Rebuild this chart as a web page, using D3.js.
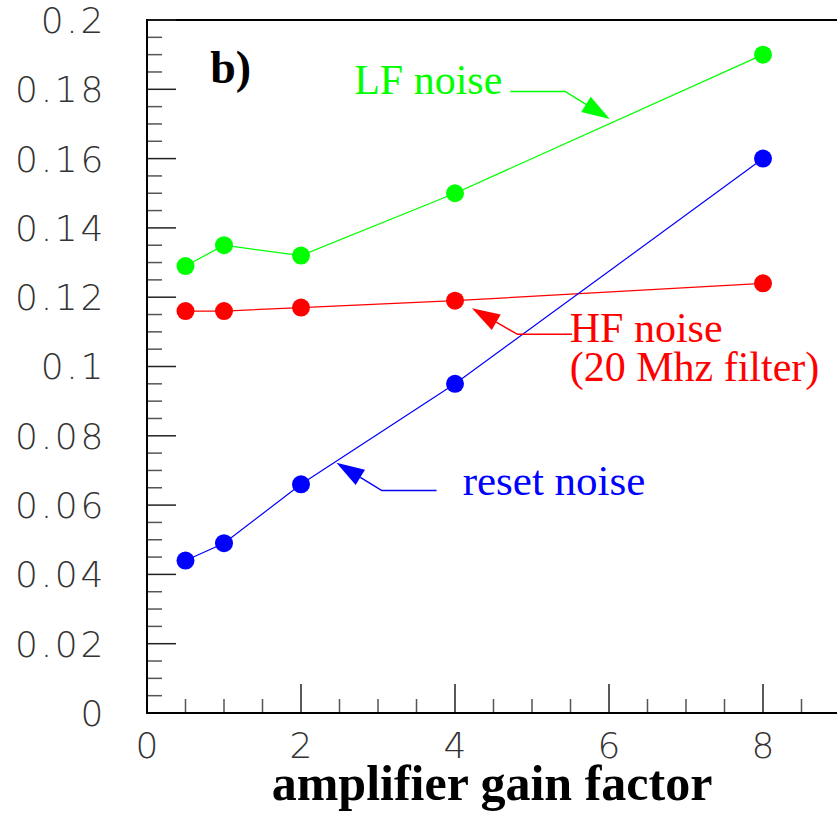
<!DOCTYPE html>
<html><head><meta charset="utf-8">
<script src="https://cdn.jsdelivr.net/npm/d3@7"></script>
<style>
html,body{margin:0;padding:0;background:#fff;}
svg{display:block;}
</style></head>
<body>
<script>
// ---- data ----
const gains = [0.5, 1, 2, 4, 8];
const lfNoise = [0.129, 0.135, 0.132, 0.150, 0.190];
const hfNoise = [0.116, 0.116, 0.117, 0.119, 0.124];
const resetNoise = [0.044, 0.049, 0.066, 0.095, 0.160];
const seriesNames = ["LF noise", "HF noise", "reset noise"];
const seriesColors = ["#00ff00", "#ff0000", "#0000ff"];
const xTickLabels = [0, 2, 4, 6, 8];
const yTickLabels = [0, 0.02, 0.04, 0.06, 0.08, 0.1, 0.12, 0.14, 0.16, 0.18, 0.2];
const xLabel = "amplifier gain factor";
const panelLabel = "b)";
// annotations in data coordinates: label lines, arrow path (from label to tip)
const annLF = {lines: ["LF noise"], tx: 2.69, ty: 0.1786, path: [[4.72, 0.1794], [5.43, 0.1794], [6.01, 0.1714]]};
const annHF = {lines: ["HF noise", "(20 Mhz filter)"], tx: 5.49, ty: 0.1072, path: [[5.52, 0.1093], [4.81, 0.1093], [4.22, 0.1168]]};
const annReset = {lines: ["reset noise"], tx: 4.10, ty: 0.0629, path: [[3.76, 0.0642], [3.05, 0.0642], [2.46, 0.0722]]};

// ---- layout ----
const W = 837, H = 815;
const x = d3.scaleLinear().domain([0, 10]).range([147, 917]);
const y = d3.scaleLinear().domain([0, 0.2]).range([713, 20]);

const svg = d3.select("body").append("svg").attr("width", W).attr("height", H)
  .style("background", "#fff");

// frame: top border
svg.append("line").attr("x1", x(0)).attr("x2", W).attr("y1", y(0.2)).attr("y2", y(0.2))
  .attr("stroke", "#000").attr("stroke-width", 2);

// Y axis ticks
const yMinor = d3.range(0, 0.2001, 0.005);
svg.append("g").selectAll("line").data(yMinor).join("line")
  .attr("x1", x(0)).attr("x2", (d, i) => i % 4 === 0 ? x(0) + 29 : x(0) + 15)
  .attr("y1", d => y(d)).attr("y2", d => y(d))
  .attr("stroke", (d, i) => i % 4 === 0 ? "#222" : "#555").attr("stroke-width", 1.5);
// X axis ticks
const xMinor = d3.range(0, 10.01, 0.5);
svg.append("g").selectAll("line").data(xMinor).join("line")
  .attr("x1", d => x(d)).attr("x2", d => x(d))
  .attr("y1", y(0)).attr("y2", (d, i) => i % 4 === 0 ? y(0) - 29 : y(0) - 14)
  .attr("stroke", (d, i) => i % 4 === 0 ? "#222" : "#555").attr("stroke-width", 1.5);

// axis lines
svg.append("line").attr("x1", x(0)).attr("x2", x(0)).attr("y1", y(0.2) - 1).attr("y2", y(0) + 1)
  .attr("stroke", "#000").attr("stroke-width", 2);
svg.append("line").attr("x1", x(0) - 1).attr("x2", W).attr("y1", y(0)).attr("y2", y(0))
  .attr("stroke", "#000").attr("stroke-width", 2);

const thinFont = "'DejaVu Sans', Inter, sans-serif";
// y tick labels
svg.append("g").selectAll("text").data(yTickLabels).join("text")
  .attr("x", 106).attr("y", d => y(d)).attr("dy", "0.36em")
  .attr("text-anchor", "end").attr("font-family", thinFont).attr("font-weight", 200)
  .attr("font-size", 36).attr("letter-spacing", 2.7).attr("fill", "#333")
  .text(d => d === 0 ? "0" : String(d));
// x tick labels
svg.append("g").selectAll("text").data(xTickLabels).join("text")
  .attr("x", d => x(d)).attr("y", 758)
  .attr("text-anchor", "middle").attr("font-family", thinFont).attr("font-weight", 200)
  .attr("font-size", 36).attr("fill", "#333")
  .text(d => String(d));

// x axis title
svg.append("text").attr("x", 492).attr("y", 800).attr("text-anchor", "middle")
  .attr("font-family", "'Liberation Serif', 'Times New Roman', serif").attr("font-weight", "bold")
  .attr("font-size", 50).attr("fill", "#000").text(xLabel);

// panel label
svg.append("text").attr("x", x(0.82)).attr("y", y(0.1818))
  .attr("font-family", "'Liberation Serif', 'Times New Roman', serif").attr("font-weight", "bold")
  .attr("font-size", 46).attr("fill", "#000").text(panelLabel);

// series
const allSeries = [lfNoise, hfNoise, resetNoise];
const line = d3.line().x((d, i) => x(gains[i])).y(d => y(d));
allSeries.forEach((vals, si) => {
  const g = svg.append("g");
  g.append("path").datum(vals).attr("d", line).attr("fill", "none")
    .attr("stroke", seriesColors[si]).attr("stroke-width", 1.2);
  g.selectAll("circle").data(vals).join("circle")
    .attr("cx", (d, i) => x(gains[i])).attr("cy", d => y(d)).attr("r", 9)
    .attr("fill", seriesColors[si]);
});

// annotations
const annSizes = [42, 42, 43];
[annLF, annHF, annReset].forEach((a, si) => {
  const col = seriesColors[si];
  const g = svg.append("g");
  a.lines.forEach((t, li) => {
    g.append("text").attr("x", x(a.tx)).attr("y", y(a.ty) + li * 39)
      .attr("font-family", "'Liberation Serif', 'Times New Roman', serif")
      .attr("font-size", annSizes[si]).attr("fill", col).text(t);
  });
  const pts = a.path.map(p => [x(p[0]), y(p[1])]);
  const n = pts.length;
  const tip = pts[n - 1], prev = pts[n - 2];
  const dx = tip[0] - prev[0], dy = tip[1] - prev[1];
  const L = Math.hypot(dx, dy), ux = dx / L, uy = dy / L;
  const hl = 28, hw = 9;
  const bx = tip[0] - ux * hl, by = tip[1] - uy * hl;
  const linePts = pts.slice(0, n - 1).concat([[bx, by]]);
  g.append("path").attr("d", d3.line()(linePts)).attr("fill", "none")
    .attr("stroke", col).attr("stroke-width", 1.5);
  g.append("path").attr("d", d3.line()([tip, [bx - uy * hw, by + ux * hw], [bx + uy * hw, by - ux * hw]]) + "Z")
    .attr("fill", col);
});
</script>
</body></html>
